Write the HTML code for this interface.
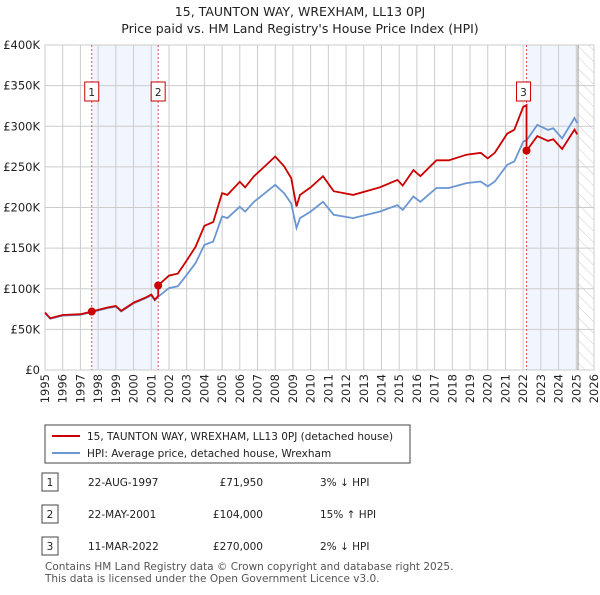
<!DOCTYPE html>
<html><head><meta charset="utf-8"><style>
body{margin:0;background:#fff;font-family:"Liberation Sans","DejaVu Sans",sans-serif;}
svg text{font-family:"DejaVu Sans","Liberation Sans",sans-serif;}
</style></head><body>
<svg id="chart" width="600" height="590" xmlns="http://www.w3.org/2000/svg">
<defs><pattern id="hatch" width="8" height="8" patternUnits="userSpaceOnUse" patternTransform="rotate(-45)"><line x1="0" y1="0" x2="0" y2="8" stroke="#ccc" stroke-width="1"/></pattern></defs>
<text x="300" y="16" text-anchor="middle" font-size="12.5" fill="#222">15, TAUNTON WAY, WREXHAM, LL13 0PJ</text>
<text x="300" y="33" text-anchor="middle" font-size="12.5" fill="#222">Price paid vs. HM Land Registry's House Price Index (HPI)</text>
<g id="plot"></g>
<g>
<rect x="45" y="425" width="365" height="38" fill="#fff" stroke="#444"/>
<line x1="52" y1="436" x2="80" y2="436" stroke="#c00" stroke-width="2"/>
<text x="87" y="440" font-size="10.5" fill="#222">15, TAUNTON WAY, WREXHAM, LL13 0PJ (detached house)</text>
<line x1="52" y1="453" x2="80" y2="453" stroke="#6a96d2" stroke-width="2"/>
<text x="87" y="457" font-size="10.5" fill="#222">HPI: Average price, detached house, Wrexham</text>
</g>
<g id="table" font-size="10.5" fill="#222"></g>
<text x="45" y="570" font-size="10.5" fill="#555">Contains HM Land Registry data © Crown copyright and database right 2025.</text>
<text x="45" y="582" font-size="10.5" fill="#555">This data is licensed under the Open Government Licence v3.0.</text>
</svg>
<script>
const hpiYears=[1995,1995.3,1996,1997,1997.6,1998.5,1999,1999.3,2000,2000.7,2001,2001.2,2001.4,2002,2002.5,2003,2003.5,2004,2004.5,2005,2005.3,2006,2006.3,2006.8,2007.3,2008,2008.5,2008.9,2009.2,2009.4,2010,2010.7,2011.3,2012.4,2013.9,2014.9,2015.2,2015.8,2016.2,2017.1,2017.8,2018.8,2019.6,2020,2020.4,2021.1,2021.5,2022,2022.2,2022.8,2023.4,2023.7,2024.2,2024.9,2025.05];
const hpiValues=[70,63,67,68,71,76,78,72,82,88.5,92,85.6,90.5,100.8,103,117,131.5,154,158,189,187,201,195,207,215.6,228,217.6,205,174.6,187,195,207,191,187,195,203,197,213.5,207,224,224,230,232,226,232,252.5,256.6,281,283,301.6,295.5,297.5,285,310,304];
const saleYears=[1997.64,2001.39,2022.19];
const salePrices=[71950,104000,270000];
const saleLabels=["22-AUG-1997","22-MAY-2001","11-MAR-2022"];
const salePriceText=["£71,950","£104,000","£270,000"];
const saleHpiText=["3% ↓ HPI","15% ↑ HPI","2% ↓ HPI"];
const yTicks=[0,50000,100000,150000,200000,250000,300000,350000,400000];
const yTickLabels=["£0","£50K","£100K","£150K","£200K","£250K","£300K","£350K","£400K"];
const xTicks=[1995,1996,1997,1998,1999,2000,2001,2002,2003,2004,2005,2006,2007,2008,2009,2010,2011,2012,2013,2014,2015,2016,2017,2018,2019,2020,2021,2022,2023,2024,2025,2026];
const dataEnd=2025.1;

const X0=45,X1=594,Y0=370,Y1=45;
const xs=y=>X0+(y-1995)/(2026-1995)*(X1-X0);
const ys=v=>Y0-v/400000*(Y0-Y1);
const NS="http://www.w3.org/2000/svg";
const plot=document.getElementById('plot');
function mk(tag,attrs,parent){const e=document.createElementNS(NS,tag);for(const k in attrs)e.setAttribute(k,attrs[k]);(parent||plot).appendChild(e);return e;}
function hpiAt(y){for(let i=0;i<hpiYears.length-1;i++){if(y>=hpiYears[i]&&y<=hpiYears[i+1]){const t=(y-hpiYears[i])/(hpiYears[i+1]-hpiYears[i]);return (hpiValues[i]+t*(hpiValues[i+1]-hpiValues[i]))*1000;}}return hpiValues[hpiValues.length-1]*1000;}

let s=mk('rect',{x:xs(saleYears[0]),y:Y1,width:xs(saleYears[1])-xs(saleYears[0]),height:Y0-Y1,fill:'#eef3fc',opacity:0.8});


s=mk('rect',{x:xs(saleYears[2]),y:Y1,width:xs(dataEnd)-xs(saleYears[2]),height:Y0-Y1,fill:'#eef3fc',opacity:0.8});


s=mk('rect',{x:xs(dataEnd),y:Y1,width:X1-xs(dataEnd),height:Y0-Y1,fill:'url(#hatch)'});



yTicks.forEach((v,i)=>{
 const l=mk('line',{x1:X0,x2:X1,y1:ys(v),y2:ys(v),stroke:'#ccc','stroke-width':1});
 
 
 const t=mk('text',{x:40,y:ys(v)+4,'text-anchor':'end','font-size':11.5,fill:'#222'});
 
 
 t.textContent=yTickLabels[i];
});
xTicks.forEach(y=>{
 const l=mk('line',{x1:xs(y),x2:xs(y),y1:Y1,y2:Y0,stroke:'#ccc','stroke-width':1});
 
 
 const tx=xs(y)+4,ty=374;
 const t=mk('text',{x:tx,y:ty,'text-anchor':'end','font-size':11.5,fill:'#222',transform:'rotate(-90 '+tx+' '+ty+')'});
 
 
 t.textContent=y;
});
const b=mk('rect',{x:X0,y:Y1,width:X1-X0,height:Y0-Y1,fill:'none',stroke:'#ccc'});


const el=mk('line',{x1:xs(dataEnd),x2:xs(dataEnd),y1:Y1,y2:Y0,stroke:'#999','stroke-width':1});



saleYears.forEach((y,i)=>{
 const l=mk('line',{x1:xs(y),x2:xs(y),y1:Y1,y2:Y0,stroke:'#e05050','stroke-width':1,'stroke-dasharray':'2,2'});
 
 
});

let pts=hpiYears.map((y,i)=>xs(y).toFixed(1)+','+ys(hpiValues[i]*1000).toFixed(1));
const hl=mk('polyline',{points:pts.join(' '),fill:'none',stroke:'#6a96d2','stroke-width':1.8});



const ratios=saleYears.map((y,i)=>salePrices[i]/hpiAt(y));
let rp=[];
const allYears=[...hpiYears];
saleYears.forEach(y=>allYears.push(y));
allYears.sort((a,b)=>a-b);
allYears.forEach(y=>{
 let idx=0;for(let i=0;i<saleYears.length;i++)if(y>saleYears[i])idx=i;
 if(saleYears.includes(y)){
  const k=saleYears.indexOf(y);
  const prevR=k===0?ratios[0]:ratios[k-1];
  rp.push(xs(y).toFixed(1)+','+ys(hpiAt(y)*prevR).toFixed(1));
  rp.push(xs(y).toFixed(1)+','+ys(salePrices[k]).toFixed(1));
 } else {
  rp.push(xs(y).toFixed(1)+','+ys(hpiAt(y)*ratios[idx]).toFixed(1));
 }
});
const pl=mk('polyline',{points:rp.join(' '),fill:'none',stroke:'#cc0000','stroke-width':1.8});



saleYears.forEach((y,i)=>{
 const c=mk('circle',{cx:xs(y),cy:ys(salePrices[i]),r:4,fill:'#cc0000'});
 
 
 const g=mk('g',{});
 
 
 const bx=xs(y)-(i===2?3:0);
 mk('rect',{x:bx-7,y:82,width:14,height:19,fill:'#fff',stroke:'#cc0000'},g);
 const t=mk('text',{x:bx,y:96,'text-anchor':'middle','font-size':10.5,fill:'#222'},g);
 t.textContent=i+1;
});

const tb=document.getElementById('table');
saleLabels.forEach((d,i)=>{
 const yy=485+i*32;
 const g=mk('g',{},tb);
 
 
 mk('rect',{x:42,y:yy-12,width:16,height:18,fill:'#fff',stroke:'#444'},g);
 let t=mk('text',{x:50,y:yy+1,'text-anchor':'middle'},g);t.textContent=i+1;
 t=mk('text',{x:88,y:yy+1},g);t.textContent=d;
 t=mk('text',{x:263,y:yy+1,'text-anchor':'end'},g);t.textContent=salePriceText[i];
 t=mk('text',{x:320,y:yy+1},g);t.textContent=saleHpiText[i];
});
</script>
</body></html>
